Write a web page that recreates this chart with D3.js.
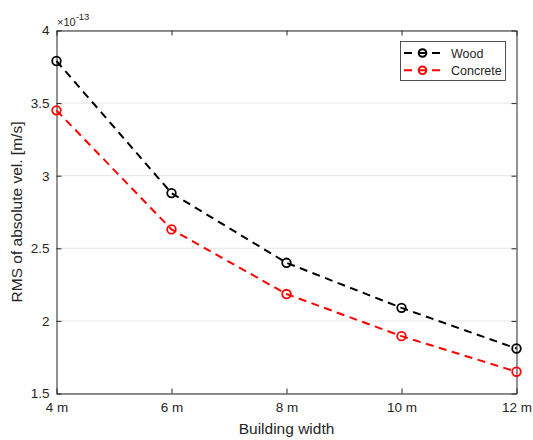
<!DOCTYPE html>
<html><head><meta charset="utf-8">
<script src="https://cdn.jsdelivr.net/npm/d3@7"></script>
<style>body{margin:0;background:#fff;} text{font-family:"Liberation Sans",Arial,Helvetica,sans-serif;}</style>
</head><body>
<svg id="chart" width="533" height="440"></svg>
<script>
const categories = ["4 m","6 m","8 m","10 m","12 m"];
const woodValues = [3.79, 2.88, 2.40, 2.09, 1.81];
const concreteValues = [3.45, 2.63, 2.185, 1.895, 1.65];
const yTicks = [1.5, 2, 2.5, 3, 3.5, 4];
const seriesNames = ["Wood","Concrete"];
const seriesColors = ["#000000","#ff0000"];

const svg = d3.select("#chart");
const m = {left:56.5, top:30.5, right:516.5, bottom:393.5};
const x = d3.scalePoint().domain(categories).range([m.left, m.right]);
const y = d3.scaleLinear().domain([1.5,4]).range([m.bottom, m.top]);
const axisColor = "#262626";

// gridlines
svg.append("g").selectAll("line").data(yTicks).join("line")
  .attr("x1", m.left).attr("x2", m.right)
  .attr("y1", d=>y(d)).attr("y2", d=>y(d))
  .attr("stroke", "#e6e6e6").attr("stroke-width", 1);

// axes
const xAxis = svg.append("g").attr("transform",`translate(0,${m.bottom})`)
  .call(d3.axisBottom(x).tickSizeInner(-5).tickSizeOuter(0).tickPadding(9));
const xTop = svg.append("g").attr("transform",`translate(0,${m.top})`)
  .call(d3.axisTop(x).tickSizeInner(-5).tickSizeOuter(0).tickFormat(""));
const yAxis = svg.append("g").attr("transform",`translate(${m.left},0)`)
  .call(d3.axisLeft(y).tickValues(yTicks).tickSizeInner(-5).tickSizeOuter(0).tickPadding(7).tickFormat(d3.format("")));
const yRight = svg.append("g").attr("transform",`translate(${m.right},0)`)
  .call(d3.axisRight(y).tickValues(yTicks).tickSizeInner(-5).tickSizeOuter(0).tickFormat(""));
[xAxis,xTop,yAxis,yRight].forEach(g=>{
  g.select(".domain").attr("stroke", axisColor);
  g.selectAll(".tick line").attr("stroke", axisColor);
  g.selectAll(".tick text").attr("fill", axisColor).style("font-size","13.5px")
    .style("font-family",'"Liberation Sans",Arial,sans-serif');
});

// series
const data = [woodValues, concreteValues];
const line = d3.line().x((d,i)=>x(categories[i])).y(d=>y(d));
data.forEach((vals,si)=>{
  svg.append("path").datum(vals).attr("d", line)
    .attr("fill","none").attr("stroke", seriesColors[si])
    .attr("stroke-width",2).attr("stroke-dasharray","8,5.5");
  svg.append("g").selectAll("circle").data(vals).join("circle")
    .attr("cx",(d,i)=>x(categories[i])).attr("cy",d=>y(d)).attr("r",4.3)
    .attr("fill","none").attr("stroke",seriesColors[si]).attr("stroke-width",1.8);
});

// exponent
const ex = svg.append("text").attr("x", 57).attr("y", 26).attr("fill", axisColor).style("font-size","11px");
ex.append("tspan").text("×10");
ex.append("tspan").attr("dy",-6).style("font-size","9.5px").text("-13");

// axis labels
svg.append("text").attr("x", (m.left+m.right)/2).attr("y", 434).attr("text-anchor","middle")
  .attr("fill", axisColor).style("font-size","15.5px").text("Building width");
svg.append("text").attr("transform",`translate(22,${(m.top+m.bottom)/2}) rotate(-90)`)
  .attr("text-anchor","middle").attr("fill", axisColor).style("font-size","15.5px")
  .text("RMS of absolute vel. [m/s]");

// legend
const lg = svg.append("g");
lg.append("rect").attr("x",400.5).attr("y",41.5).attr("width",105).attr("height",39)
  .attr("fill","#fff").attr("stroke","#262626").attr("stroke-width",0.8);
seriesNames.forEach((n,i)=>{
  const yy = 53 + i*17.3;
  lg.append("line").attr("x1",404).attr("x2",443).attr("y1",yy).attr("y2",yy)
    .attr("stroke",seriesColors[i]).attr("stroke-width",2).attr("stroke-dasharray","8,6");
  lg.append("circle").attr("cx",422.5).attr("cy",yy).attr("r",3.8)
    .attr("fill","none").attr("stroke",seriesColors[i]).attr("stroke-width",2);
  lg.append("text").attr("x",451).attr("y",yy+4.5).attr("fill",axisColor).style("font-size","12.5px").text(n);
});
</script>
</body></html>
